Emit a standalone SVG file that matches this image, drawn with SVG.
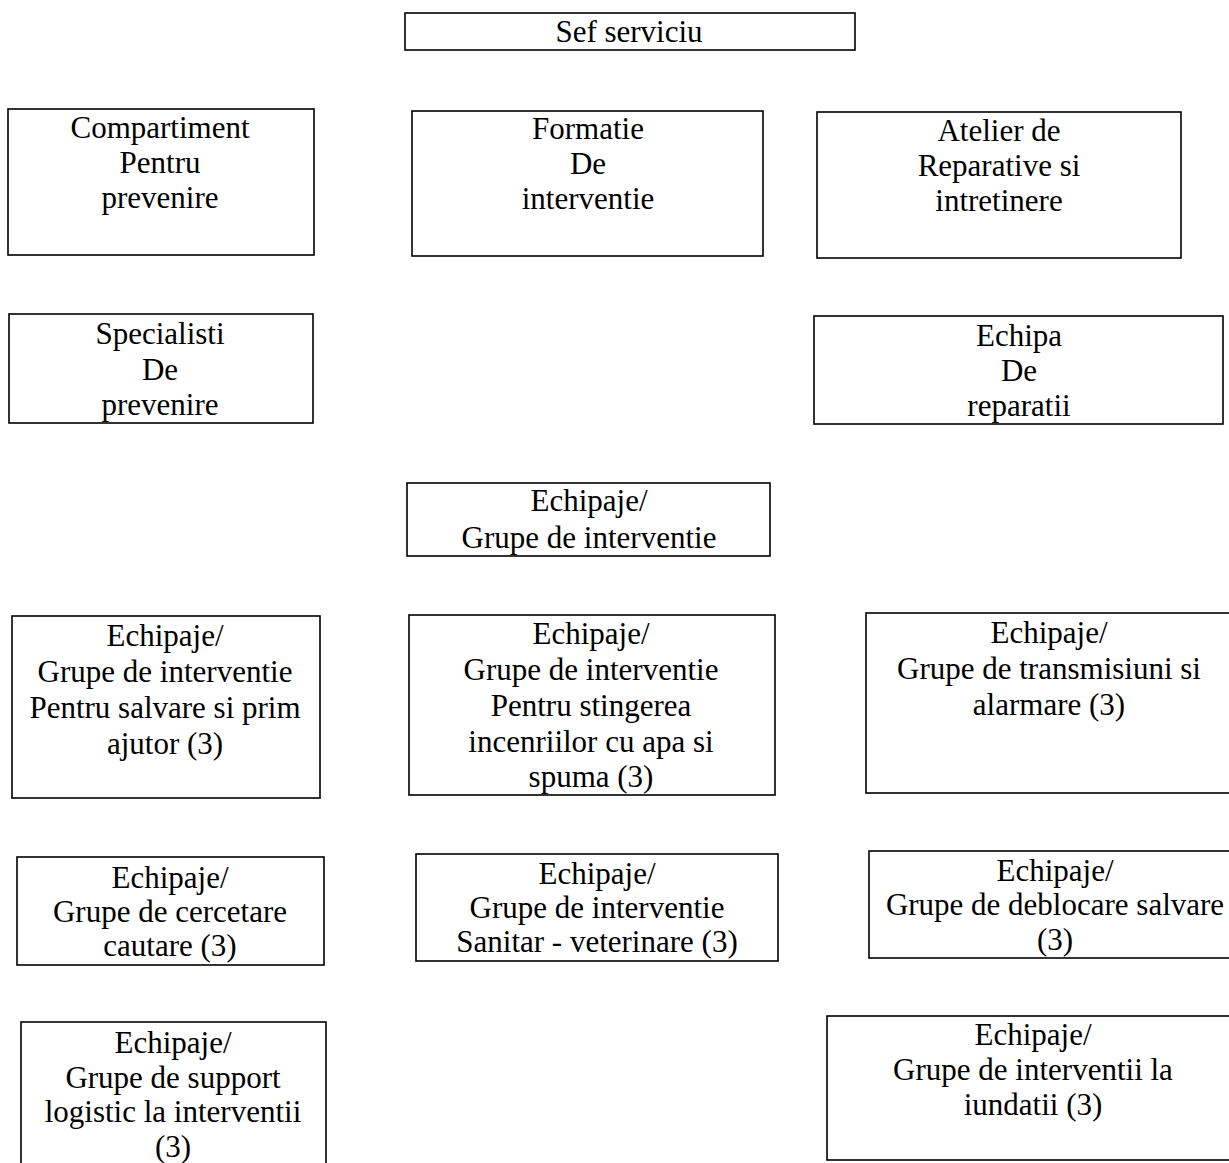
<svg xmlns="http://www.w3.org/2000/svg" width="1229" height="1163" viewBox="0 0 1229 1163">
<style>
.b{fill:#fff;stroke:#000;stroke-width:1.6}
</style>
<rect width="1229" height="1163" fill="#fff"/>
<g id="connectors"/>
<g font-family="Liberation Serif, Times New Roman, serif" font-size="31" fill="#000" text-anchor="middle">
<g id="n1"><rect class="b" x="405" y="13" width="450" height="37"/><text x="629" y="42">Sef serviciu</text></g>
<g id="n2"><rect class="b" x="8" y="109" width="306" height="146"/><text x="160" y="138">Compartiment</text><text x="160" y="173">Pentru</text><text x="160" y="208">prevenire</text></g>
<g id="n3"><rect class="b" x="412" y="111" width="351" height="145"/><text x="588" y="139">Formatie</text><text x="588" y="174">De</text><text x="588" y="209">interventie</text></g>
<g id="n4"><rect class="b" x="817" y="112" width="364" height="146"/><text x="999" y="141">Atelier de</text><text x="999" y="176">Reparative si</text><text x="999" y="211">intretinere</text></g>
<g id="n5"><rect class="b" x="9" y="314" width="304" height="109"/><text x="160" y="344">Specialisti</text><text x="160" y="380">De</text><text x="160" y="415">prevenire</text></g>
<g id="n6"><rect class="b" x="814" y="316" width="409" height="108"/><text x="1019" y="346">Echipa</text><text x="1019" y="381">De</text><text x="1019" y="416">reparatii</text></g>
<g id="n7"><rect class="b" x="407" y="483" width="363" height="73"/><text x="589" y="511">Echipaje/</text><text x="589" y="548">Grupe de interventie</text></g>
<g id="n8"><rect class="b" x="12" y="616" width="308" height="182"/><text x="165" y="646">Echipaje/</text><text x="165" y="682">Grupe de interventie</text><text x="165" y="718">Pentru salvare si prim</text><text x="165" y="754">ajutor (3)</text></g>
<g id="n9"><rect class="b" x="409" y="615" width="366" height="180"/><text x="591" y="644">Echipaje/</text><text x="591" y="680">Grupe de interventie</text><text x="591" y="716">Pentru stingerea</text><text x="591" y="752">incenriilor cu apa si</text><text x="591" y="787">spuma (3)</text></g>
<g id="n10"><rect class="b" x="866" y="613" width="370" height="180"/><text x="1049" y="643">Echipaje/</text><text x="1049" y="679">Grupe de transmisiuni si</text><text x="1049" y="715">alarmare (3)</text></g>
<g id="n11"><rect class="b" x="17" y="857" width="307" height="108"/><text x="170" y="888">Echipaje/</text><text x="170" y="922">Grupe de cercetare</text><text x="170" y="956">cautare (3)</text></g>
<g id="n12"><rect class="b" x="416" y="854" width="362" height="107"/><text x="597" y="884">Echipaje/</text><text x="597" y="918">Grupe de interventie</text><text x="597" y="952">Sanitar - veterinare (3)</text></g>
<g id="n13"><rect class="b" x="869" y="851" width="370" height="107"/><text x="1055" y="881">Echipaje/</text><text x="1055" y="915">Grupe de deblocare salvare</text><text x="1055" y="950">(3)</text></g>
<g id="n14"><rect class="b" x="21" y="1022" width="305" height="150"/><text x="173" y="1053">Echipaje/</text><text x="173" y="1088">Grupe de support</text><text x="173" y="1122">logistic la interventii</text><text x="173" y="1157">(3)</text></g>
<g id="n15"><rect class="b" x="827" y="1016" width="410" height="144"/><text x="1033" y="1045">Echipaje/</text><text x="1033" y="1080">Grupe de interventii la</text><text x="1033" y="1115">iundatii (3)</text></g>
</g>
</svg>
